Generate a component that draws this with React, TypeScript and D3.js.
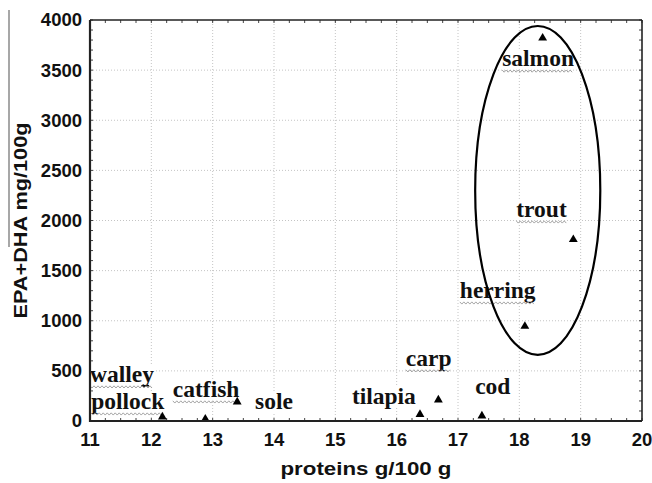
import { useEffect, useRef } from "react";
import * as d3 from "d3";

// fish species: protein (g/100 g) vs EPA+DHA (mg/100 g)
const fish = ["walley", "pollock", "sole", "catfish", "tilapia", "carp", "cod", "herring", "salmon", "trout"];
const protein = [11.9, 12.18, 12.88, 13.4, 16.38, 16.68, 17.39, 18.09, 18.38, 18.88];
const epaDha = [370, 40, 20, 190, 65, 210, 50, 945, 3820, 1810];
// walley's marker sits behind its own label in the original
const behindLabel = [true, false, false, false, false, false, false, false, false, false];

// label anchors in data units (left edge, baseline)
const labelText = ["walley", "pollock", "catfish", "sole", "tilapia", "carp", "cod", "herring", "trout", "salmon"];
const labelX = [11.0, 11.02, 12.35, 13.69, 15.27, 16.15, 17.28, 17.03, 17.95, 17.72];
const labelY = [390, 120, 240, 120, 170, 550, 270, 1227, 2035, 3540];
const labelWavy = [true, true, true, false, false, true, false, true, true, true];

const xTicks = d3.range(11, 21, 1);
const yTicks = d3.range(0, 4001, 500);

// the group ellipse (centre and radii in data units)
const ellipseCentre = [18.3, 2300];
const ellipseRadius = [1.02, 1640];

const W = 652;
const H = 483;
const SANS = "'Liberation Sans', Arial, sans-serif";
const SERIF = "'Liberation Serif', 'Times New Roman', serif";

export default function App() {
  const ref = useRef<SVGSVGElement>(null);

  useEffect(() => {
    document.body.style.margin = "0";
    const svg = d3.select(ref.current);
    svg.selectAll("*").remove();

    const x = d3.scaleLinear().domain([11, 20]).range([90, 642]);
    const y = d3.scaleLinear().domain([0, 4000]).range([421, 20]);

    // stray gray rule at the far left of the scan
    svg.append("line")
      .attr("x1", 9).attr("x2", 9).attr("y1", 10).attr("y2", 247)
      .attr("stroke", "#8a8a8a").attr("stroke-width", 1.5);

    // dotted grid
    const grid = svg.append("g").attr("stroke", "#c4c4c4").attr("stroke-dasharray", "1,2");
    xTicks.slice(1, -1).forEach(t => {
      grid.append("line").attr("x1", x(t)).attr("x2", x(t)).attr("y1", y(0)).attr("y2", y(4000));
    });
    yTicks.slice(1, -1).forEach(t => {
      grid.append("line").attr("x1", x(11)).attr("x2", x(20)).attr("y1", y(t)).attr("y2", y(t));
    });

    // minor ticks, inward on all sides
    const ticks = svg.append("g").attr("stroke", "#444").attr("stroke-width", 1);
    d3.range(11, 20.001, 0.25).forEach(t => {
      ticks.append("line").attr("x1", x(t)).attr("x2", x(t)).attr("y1", y(0)).attr("y2", y(0) - 3);
      ticks.append("line").attr("x1", x(t)).attr("x2", x(t)).attr("y1", y(4000)).attr("y2", y(4000) + 3);
    });
    d3.range(0, 4001, 100).forEach(t => {
      ticks.append("line").attr("x1", x(11)).attr("x2", x(11) + 3).attr("y1", y(t)).attr("y2", y(t));
      ticks.append("line").attr("x1", x(20)).attr("x2", x(20) - 3).attr("y1", y(t)).attr("y2", y(t));
    });

    const tri = d3.symbol().type(d3.symbolTriangle).size(34);
    const drawPoints = (hidden: boolean) => {
      svg.append("g").selectAll("path")
        .data(fish.map((_, i) => i).filter(i => behindLabel[i] === hidden))
        .join("path")
        .attr("d", tri)
        .attr("transform", i => `translate(${x(protein[i])},${y(epaDha[i])})`)
        .attr("fill", "#000");
    };

    drawPoints(true);

    // labels with white boxes and squiggly underlines
    const lab = svg.append("g");
    labelText.forEach((name, i) => {
      const lx = x(labelX[i]);
      const ly = y(labelY[i]);
      const g = lab.append("g");
      const rect = g.append("rect").attr("fill", "#fff");
      const text = g.append("text")
        .attr("x", lx).attr("y", ly)
        .attr("font-family", SERIF).attr("font-weight", "bold").attr("font-size", 23.5)
        .attr("fill", "#111")
        .text(name);
      const w = (text.node() as SVGTextElement).getComputedTextLength();
      rect.attr("x", lx - 1).attr("y", ly - 17).attr("width", w + 2).attr("height", 20);
      if (labelWavy[i]) {
        const pts = d3.range(0, Math.floor(w / 2) + 1).map(k => [lx + k * 2, ly + 5 + (k % 2 ? 1.1 : -1.1)] as [number, number]);
        g.append("path")
          .attr("d", d3.line()(pts))
          .attr("fill", "none").attr("stroke", "#9a9a9a").attr("stroke-width", 0.9);
      }
    });

    drawPoints(false);

    // frame
    svg.append("line").attr("x1", x(11)).attr("x2", x(20)).attr("y1", y(4000)).attr("y2", y(4000))
      .attr("stroke", "#222").attr("stroke-width", 1.6);
    svg.append("line").attr("x1", x(20)).attr("x2", x(20)).attr("y1", y(0)).attr("y2", y(4000))
      .attr("stroke", "#222").attr("stroke-width", 1.6);
    svg.append("line").attr("x1", x(11)).attr("x2", x(11)).attr("y1", y(0) + 1).attr("y2", y(4000))
      .attr("stroke", "#222").attr("stroke-width", 2.2);
    svg.append("line").attr("x1", x(11) - 1).attr("x2", x(20)).attr("y1", y(0)).attr("y2", y(0))
      .attr("stroke", "#222").attr("stroke-width", 2.2);

    // ellipse around the oily fish
    svg.append("ellipse")
      .attr("cx", x(ellipseCentre[0])).attr("cy", y(ellipseCentre[1]))
      .attr("rx", x(ellipseCentre[0] + ellipseRadius[0]) - x(ellipseCentre[0]))
      .attr("ry", y(0) - y(ellipseRadius[1]))
      .attr("fill", "none").attr("stroke", "#000").attr("stroke-width", 2.2);

    // tick labels
    svg.append("g").selectAll("text").data(xTicks).join("text")
      .attr("x", d => x(d)).attr("y", 446)
      .attr("text-anchor", "middle")
      .attr("font-family", SANS).attr("font-weight", "bold").attr("font-size", 18.5).attr("fill", "#111")
      .text(d => d);
    svg.append("g").selectAll("text").data(yTicks).join("text")
      .attr("x", 82).attr("y", d => y(d)).attr("dy", "0.35em")
      .attr("text-anchor", "end")
      .attr("font-family", SANS).attr("font-weight", "bold").attr("font-size", 18.5).attr("fill", "#111")
      .text(d => d);

    // axis titles
    svg.append("text")
      .attr("x", (x(11) + x(20)) / 2).attr("y", 475)
      .attr("text-anchor", "middle")
      .attr("font-family", SANS).attr("font-weight", "bold").attr("font-size", 17.5).attr("fill", "#111")
      .attr("textLength", 171).attr("lengthAdjust", "spacingAndGlyphs")
      .text("proteins g/100 g");
    svg.append("text")
      .attr("transform", `translate(27,${(y(0) + y(4000)) / 2}) rotate(-90)`)
      .attr("text-anchor", "middle")
      .attr("font-family", SANS).attr("font-weight", "bold").attr("font-size", 18).attr("fill", "#111")
      .attr("textLength", 196).attr("lengthAdjust", "spacingAndGlyphs")
      .text("EPA+DHA mg/100g");
  }, []);

  return <svg ref={ref} width={W} height={H} style={{ display: "block", background: "#fff" }} />;
}
